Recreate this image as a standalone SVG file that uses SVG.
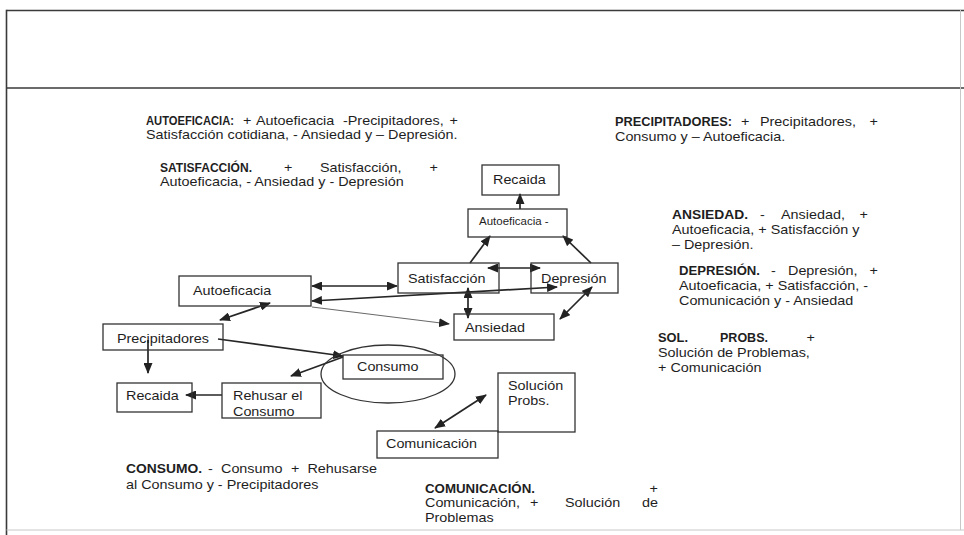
<svg xmlns="http://www.w3.org/2000/svg" width="964" height="535" viewBox="0 0 964 535">
  <style>
    .frame { stroke: #3a3a3a; stroke-width: 1.6; fill: none; }
    .faint { stroke: #c8c8c8; stroke-width: 1; fill: none; }
    .box { fill: none; stroke: #333; stroke-width: 1.3; }
    .ring { fill: none; stroke: #333; stroke-width: 1.3; }
    .edge { stroke: #262626; stroke-width: 1.7; fill: none; }
    .edge.thin { stroke: #6a6a6a; stroke-width: 1.1; }
    .t { font-family: "Liberation Sans", Arial, sans-serif; font-size: 12.5px; fill: #1e1e1e; }
    .b { font-family: "Liberation Sans", Arial, sans-serif; font-size: 12.5px; font-weight: bold; fill: #1e1e1e; }
    .s { font-family: "Liberation Sans", Arial, sans-serif; font-size: 10px; fill: #1e1e1e; }
  </style>
  <defs>
    <marker id="head" markerUnits="userSpaceOnUse" markerWidth="11" markerHeight="9" refX="10" refY="4.5" orient="auto-start-reverse">
      <path d="M0,0 L11,4.5 L0,9 z" fill="#222"/>
    </marker>
  </defs>

  <rect width="964" height="535" fill="#fff"/>

  <!-- page frame -->
  <g id="frame">
    <line class="frame" x1="6.5" y1="10.5" x2="964" y2="10.5"/>
    <line class="frame" x1="6.5" y1="88" x2="964" y2="88"/>
    <line class="frame" x1="6.5" y1="9.7" x2="6.5" y2="535"/>
    <line class="faint" x1="960.5" y1="10" x2="960.5" y2="530"/>
    <line class="faint" x1="6.5" y1="530" x2="964" y2="530"/>
  </g>

  <!-- explanatory paragraphs -->
  <g id="notes">
    <text class="b" x="146" y="125" textLength="88" lengthAdjust="spacingAndGlyphs">AUTOEFICACIA:</text>
    <text class="t" transform="matrix(1.15 0 0 1 243 125)">+</text>
    <text class="t" transform="matrix(1.15 0 0 1 256 125)">Autoeficacia</text>
    <text class="t" transform="matrix(1.15 0 0 1 343 125)">-Precipitadores,</text>
    <text class="t" text-anchor="end" transform="matrix(1.15 0 0 1 458 125)">+</text>
    <text class="t" transform="matrix(1.15 0 0 1 146 139)">Satisfacción cotidiana, - Ansiedad y – Depresión.</text>

    <text class="b" x="160" y="172" textLength="92" lengthAdjust="spacingAndGlyphs">SATISFACCIÓN.</text>
    <text class="t" transform="matrix(1.15 0 0 1 284 172)">+</text>
    <text class="t" transform="matrix(1.15 0 0 1 320 172)">Satisfacción,</text>
    <text class="t" text-anchor="end" transform="matrix(1.15 0 0 1 438 172)">+</text>
    <text class="t" transform="matrix(1.15 0 0 1 160 186)">Autoeficacia, - Ansiedad y - Depresión</text>

    <text class="b" x="615" y="126" textLength="117" lengthAdjust="spacingAndGlyphs">PRECIPITADORES:</text>
    <text class="t" transform="matrix(1.15 0 0 1 741 126)">+</text>
    <text class="t" transform="matrix(1.15 0 0 1 760 126)">Precipitadores,</text>
    <text class="t" text-anchor="end" transform="matrix(1.15 0 0 1 878 126)">+</text>
    <text class="t" transform="matrix(1.15 0 0 1 615 141)">Consumo y – Autoeficacia.</text>

    <text class="b" x="672" y="219" textLength="76" lengthAdjust="spacingAndGlyphs">ANSIEDAD.</text>
    <text class="t" transform="matrix(1.15 0 0 1 760 219)">-</text>
    <text class="t" transform="matrix(1.15 0 0 1 781 219)">Ansiedad,</text>
    <text class="t" text-anchor="end" transform="matrix(1.15 0 0 1 868 219)">+</text>
    <text class="t" transform="matrix(1.15 0 0 1 672 234)">Autoeficacia, + Satisfacción y</text>
    <text class="t" transform="matrix(1.15 0 0 1 672 249)">– Depresión.</text>

    <text class="b" x="679" y="275" textLength="81" lengthAdjust="spacingAndGlyphs">DEPRESIÓN.</text>
    <text class="t" transform="matrix(1.15 0 0 1 771 275)">-</text>
    <text class="t" transform="matrix(1.15 0 0 1 788 275)">Depresión,</text>
    <text class="t" text-anchor="end" transform="matrix(1.15 0 0 1 878 275)">+</text>
    <text class="t" transform="matrix(1.15 0 0 1 679 290)">Autoeficacia, + Satisfacción, -</text>
    <text class="t" transform="matrix(1.15 0 0 1 679 305)">Comunicación y - Ansiedad</text>

    <text class="b" x="658" y="342" textLength="30" lengthAdjust="spacingAndGlyphs">SOL.</text>
    <text class="b" x="720" y="342" textLength="48" lengthAdjust="spacingAndGlyphs">PROBS.</text>
    <text class="t" text-anchor="end" transform="matrix(1.15 0 0 1 815 342)">+</text>
    <text class="t" transform="matrix(1.15 0 0 1 658 357)">Solución de Problemas,</text>
    <text class="t" transform="matrix(1.15 0 0 1 658 372)">+ Comunicación</text>

    <text class="b" x="126" y="473" textLength="76" lengthAdjust="spacingAndGlyphs">CONSUMO.</text>
    <text class="t" transform="matrix(1.15 0 0 1 208 473)">-</text>
    <text class="t" transform="matrix(1.15 0 0 1 221 473)">Consumo</text>
    <text class="t" transform="matrix(1.15 0 0 1 291 473)">+</text>
    <text class="t" text-anchor="end" transform="matrix(1.15 0 0 1 377 473)">Rehusarse</text>
    <text class="t" transform="matrix(1.15 0 0 1 126 489)">al Consumo y - Precipitadores</text>

    <text class="b" x="425" y="493" textLength="110" lengthAdjust="spacingAndGlyphs">COMUNICACIÓN.</text>
    <text class="t" text-anchor="end" transform="matrix(1.15 0 0 1 658 493)">+</text>
    <text class="t" transform="matrix(1.15 0 0 1 425 507)">Comunicación,</text>
    <text class="t" transform="matrix(1.15 0 0 1 530 507)">+</text>
    <text class="t" transform="matrix(1.15 0 0 1 565 507)">Solución</text>
    <text class="t" text-anchor="end" transform="matrix(1.15 0 0 1 658 507)">de</text>
    <text class="t" transform="matrix(1.15 0 0 1 425 522)">Problemas</text>
  </g>

  <!-- connectors -->
  <g id="connectors">
    <line class="edge" x1="520" y1="209" x2="520" y2="194" marker-end="url(#head)"/>
    <line class="edge" x1="470" y1="263" x2="490" y2="236" marker-end="url(#head)"/>
    <line class="edge" x1="591" y1="263" x2="563" y2="236" marker-end="url(#head)"/>
    <line class="edge" x1="488" y1="268" x2="540" y2="268" marker-start="url(#head)" marker-end="url(#head)"/>
    <line class="edge" x1="312" y1="286" x2="397" y2="286" marker-start="url(#head)" marker-end="url(#head)"/>
    <line class="edge" x1="312" y1="301" x2="557" y2="287" marker-start="url(#head)" marker-end="url(#head)"/>
    <line class="edge thin" x1="312" y1="307" x2="449" y2="324" marker-end="url(#head)"/>
    <line class="edge" x1="468" y1="288" x2="468" y2="318" marker-start="url(#head)" marker-end="url(#head)"/>
    <line class="edge" x1="592" y1="287" x2="560" y2="319" marker-start="url(#head)" marker-end="url(#head)"/>
    <line class="edge" x1="270" y1="303" x2="220" y2="320" marker-start="url(#head)" marker-end="url(#head)"/>
    <line class="edge" x1="148" y1="340" x2="148" y2="373" marker-end="url(#head)"/>
    <line class="edge" x1="218" y1="339" x2="343" y2="356" marker-end="url(#head)"/>
    <line class="edge" x1="343" y1="357" x2="291" y2="376" marker-end="url(#head)"/>
    <line class="edge" x1="222" y1="395" x2="186" y2="395" marker-end="url(#head)"/>
    <line class="edge" x1="435" y1="428" x2="486" y2="395" marker-start="url(#head)" marker-end="url(#head)"/>
  </g>

  <!-- nodes -->
  <g id="recaida-top">
    <rect class="box" x="482" y="165" width="77" height="30"/>
    <text class="t" transform="matrix(1.15 0 0 1 493 184)">Recaida</text>
  </g>
  <g id="autoeficacia-menos">
    <rect class="box" x="468" y="209" width="99" height="28"/>
    <text class="s" transform="matrix(1.15 0 0 1 479 225)">Autoeficacia -</text>
  </g>
  <g id="satisfaccion">
    <rect class="box" x="398" y="263" width="101" height="30"/>
    <text class="t" transform="matrix(1.15 0 0 1 408 283)">Satisfacción</text>
  </g>
  <g id="depresion">
    <rect class="box" x="531" y="263" width="87" height="30"/>
    <text class="t" transform="matrix(1.15 0 0 1 541 283)">Depresión</text>
  </g>
  <g id="ansiedad">
    <rect class="box" x="454" y="314" width="100" height="26"/>
    <text class="t" transform="matrix(1.15 0 0 1 465 332)">Ansiedad</text>
  </g>
  <g id="autoeficacia">
    <rect class="box" x="179" y="276" width="132" height="30"/>
    <text class="t" transform="matrix(1.15 0 0 1 193 295)">Autoeficacia</text>
  </g>
  <g id="precipitadores">
    <rect class="box" x="103" y="324" width="120" height="26"/>
    <text class="t" transform="matrix(1.15 0 0 1 117 343)">Precipitadores</text>
  </g>
  <g id="recaida">
    <rect class="box" x="117" y="383" width="75" height="29"/>
    <text class="t" transform="matrix(1.15 0 0 1 126 400)">Recaida</text>
  </g>
  <g id="rehusar">
    <rect class="box" x="222" y="383" width="99" height="35"/>
    <text class="t" transform="matrix(1.15 0 0 1 233 400)">Rehusar el</text>
    <text class="t" transform="matrix(1.15 0 0 1 233 416)">Consumo</text>
  </g>
  <g id="consumo">
    <rect class="box" x="343" y="355" width="100" height="24"/>
    <ellipse class="ring" cx="388" cy="374" rx="67" ry="29"/>
    <text class="t" transform="matrix(1.15 0 0 1 357 371)">Consumo</text>
  </g>
  <g id="solucion">
    <rect class="box" x="498" y="373" width="77" height="59"/>
    <text class="t" transform="matrix(1.15 0 0 1 508 390)">Solución</text>
    <text class="t" transform="matrix(1.15 0 0 1 508 405)">Probs.</text>
  </g>
  <g id="comunicacion">
    <rect class="box" x="377" y="431" width="121" height="27"/>
    <text class="t" transform="matrix(1.15 0 0 1 386 448)">Comunicación</text>
  </g>
</svg>
